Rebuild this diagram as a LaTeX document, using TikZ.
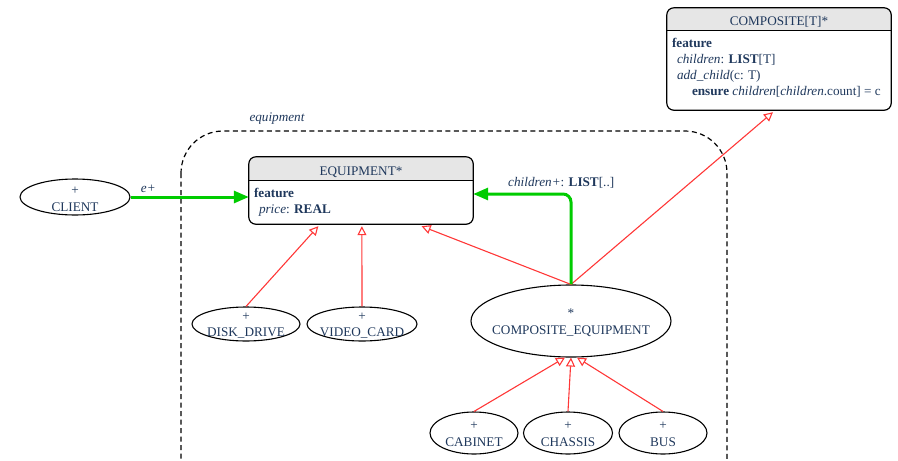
\documentclass[tikz,border=0pt]{standalone}
\usepackage{fontspec}
\setmainfont{Liberation Serif}
\usetikzlibrary{shapes.geometric, arrows.meta, calc}

\definecolor{labelblue}{RGB}{31,56,92}
\definecolor{inheritred}{RGB}{255,55,55}
\definecolor{clientgreen}{RGB}{0,204,0}
\definecolor{headgray}{RGB}{230,230,230}

\tikzset{
  classell/.style={draw, line width=1.1pt, ellipse, inner sep=0pt},
  classtext/.style={align=center, text=labelblue, font=\fontsize{13.2}{16.5}\selectfont},
  classbox/.style={inner sep=0pt},
  bodytext/.style={align=left, inner sep=0pt, anchor=north west, text=labelblue,
    font=\fontsize{13.2}{16}\selectfont},
  inherit/.style={draw=inheritred, line width=1.1pt,
    -{Triangle[open, length=9pt, width=9pt, fill=white]}},
  supplier/.style={draw=clientgreen, line width=3pt, rounded corners=8pt,
    -{Triangle[length=15pt, width=12pt]}},
}

\begin{document}
\begin{tikzpicture}[x=1pt, y=-1pt]
  \useasboundingbox (0,0) rectangle (898,461);
  \clip (0,0) rectangle (898,461);
  % cluster equipment
  \draw[line width=1.2pt, dash pattern=on 5pt off 3.5pt, rounded corners=42pt]
    (181,131) rectangle (727,520);
  \node[classtext, font=\fontsize{13.2}{16}\selectfont\itshape] (clusterlbl) at (277,119) {equipment};

  % class COMPOSITE[T]
  \node[classbox, minimum width=224, minimum height=102] (compos) at (779,59) {};
  \fill[headgray, rounded corners=7pt] (compos.north west) rectangle ($(compos.north east)+(0,23)$);
  \fill[headgray] ($(compos.north west)+(0,12)$) rectangle ($(compos.north east)+(0,23)$);
  \draw[line width=1.2pt] ($(compos.north west)+(0,23)$) -- ($(compos.north east)+(0,23)$);
  \draw[line width=1.2pt, rounded corners=7pt] (compos.north west) rectangle (compos.south east);
  \node[classtext] (composname) at ($(compos.north)+(0,14.5)$) {COMPOSITE[T]*};
  \node[bodytext] (composbody) at ($(compos.north west)+(5,30)$)
    {\textbf{feature}\\
     \hspace*{5pt}\textit{children}: \textbf{LIST}[T]\\
     \hspace*{5pt}\textit{add\_child}(c: T)\\
     \hspace*{20pt}\textbf{ensure} \textit{children}[\textit{children}.count] = c};

  % class EQUIPMENT
  \node[classbox, minimum width=224, minimum height=67] (equip) at (361,190.5) {};
  \fill[headgray, rounded corners=7pt] (equip.north west) rectangle ($(equip.north east)+(0,24)$);
  \fill[headgray] ($(equip.north west)+(0,12)$) rectangle ($(equip.north east)+(0,24)$);
  \draw[line width=1.2pt] ($(equip.north west)+(0,24)$) -- ($(equip.north east)+(0,24)$);
  \draw[line width=1.2pt, rounded corners=7pt] (equip.north west) rectangle (equip.south east);
  \node[classtext] (equipname) at ($(equip.north)+(0,15.5)$) {EQUIPMENT*};
  \node[bodytext] (equipbody) at ($(equip.north west)+(5,31)$)
    {\textbf{feature}\\
     \hspace*{5pt}\textit{price}: \textbf{REAL}};

  % client and leaf classes
  \node[classell, minimum width=110, minimum height=36,
    label={[classtext, yshift=-2.5pt]center:+\\CLIENT}] (client) at (75,197) {};
  \node[classell, minimum width=108, minimum height=34,
    label={[classtext, yshift=-1.5pt]center:+\\DISK\_DRIVE}] (disk) at (246,324) {};
  \node[classell, minimum width=110, minimum height=34,
    label={[classtext, yshift=-1.5pt]center:+\\VIDEO\_CARD}] (video) at (362,324) {};
  \node[classell, minimum width=200, minimum height=72,
    label={[classtext, yshift=-1.5pt]center:*\\COMPOSITE\_EQUIPMENT}] (compeq) at (571,321) {};
  \node[classell, minimum width=88, minimum height=42,
    label={[classtext, yshift=-1.5pt]center:+\\CABINET}] (cabinet) at (474,433) {};
  \node[classell, minimum width=89, minimum height=42,
    label={[classtext, yshift=-1.5pt]center:+\\CHASSIS}] (chassis) at (568,433) {};
  \node[classell, minimum width=88, minimum height=42,
    label={[classtext, yshift=-1.5pt]center:+\\BUS}] (bus) at (663,433) {};

  % inheritance
  \draw[inherit] (disk.north) -- ($(equip.south west)!0.31!(equip.south east)+(0,2)$);
  \draw[inherit] (video.north) -- ($(equip.south west)!0.504!(equip.south east)+(0,2)$);
  \draw[inherit] (compeq.north) -- ($(equip.south west)!0.77!(equip.south east)+(0,2)$);
  \draw[inherit] (compeq.north) -- ($(compos.south west)!0.473!(compos.south east)+(0,2)$);
  \draw[inherit] (cabinet.north) -- ([xshift=-6pt]compeq.south);
  \draw[inherit] (chassis.north) -- (compeq.south);
  \draw[inherit] (bus.north) -- ([xshift=6pt]compeq.south);

  % client links
  \draw[supplier] (client.east) -- (client.east -| equip.west)
    node[pos=0.15, above, classtext, font=\fontsize{13.2}{16}\selectfont\itshape] {e+};
  \draw[supplier] (compeq.north) |- ([yshift=-3.5pt]equip.east)
    node[pos=0.55, above=1pt, classtext] {\textit{children+}: \textbf{LIST}[..]};
\end{tikzpicture}
\end{document}
